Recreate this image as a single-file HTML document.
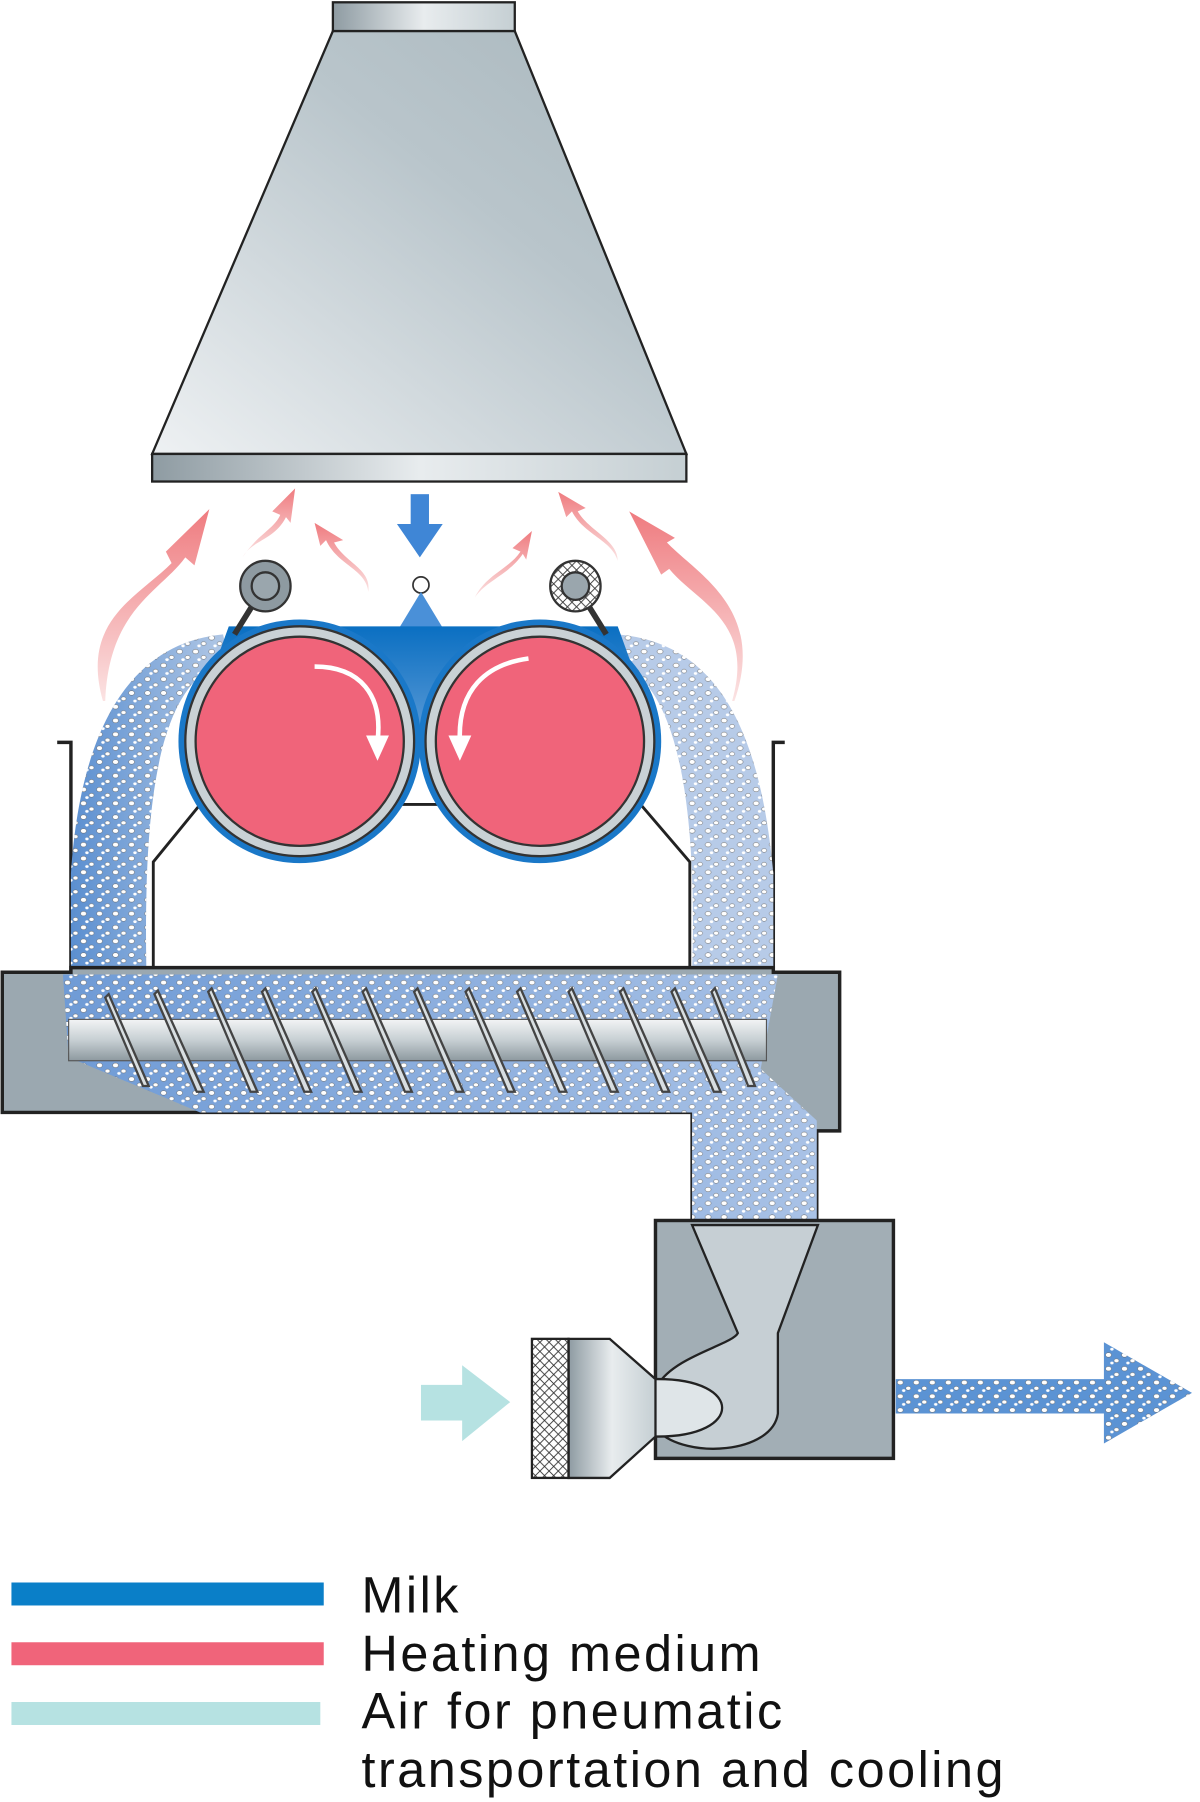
<!DOCTYPE html>
<html><head><meta charset="utf-8"><style>
html,body{margin:0;padding:0;background:#fff;width:1200px;height:1802px;overflow:hidden}
svg{display:block}
text{font-family:"Liberation Sans",sans-serif}
</style></head><body>
<svg width="1200" height="1802" viewBox="0 0 1049 1568" preserveAspectRatio="none" xmlns="http://www.w3.org/2000/svg">
<defs>
<linearGradient id="hood" x1="0" y1="1" x2="1" y2="0"><stop offset="0" stop-color="#eef1f3"/><stop offset="0.6" stop-color="#b9c5cb"/><stop offset="1" stop-color="#a9b7bd"/></linearGradient>
<linearGradient id="bar" x1="0" x2="1"><stop offset="0" stop-color="#8e9ba2"/><stop offset="0.5" stop-color="#e8ecee"/><stop offset="1" stop-color="#c5cfd3"/></linearGradient>
<linearGradient id="flowL" x1="0" x2="1"><stop offset="0" stop-color="#5b8fd0"/><stop offset="1" stop-color="#b3c9e6"/></linearGradient>
<linearGradient id="trough" x1="0" x2="1"><stop offset="0" stop-color="#6f9bd6"/><stop offset="1" stop-color="#a9c2e6"/></linearGradient>
<linearGradient id="shaft" x1="0" y1="0" x2="0" y2="1"><stop offset="0" stop-color="#f2f4f5"/><stop offset="0.5" stop-color="#c7cfd3"/><stop offset="1" stop-color="#8d999f"/></linearGradient>
<linearGradient id="heat" x1="0" y1="1" x2="0" y2="0"><stop offset="0" stop-color="#fbe3e3"/><stop offset="1" stop-color="#ef7b7f"/></linearGradient>
<linearGradient id="milk" x1="0" y1="0" x2="0" y2="1"><stop offset="0" stop-color="#0a6fc2"/><stop offset="1" stop-color="#5b9ad6"/></linearGradient>
<pattern id="dots" width="14" height="12" patternUnits="userSpaceOnUse">
<ellipse cx="3" cy="3" rx="2.6" ry="2" fill="#fff" stroke="#555" stroke-width="0.4"/>
<ellipse cx="10" cy="8" rx="2.2" ry="1.7" fill="#fff" stroke="#555" stroke-width="0.4"/>
<ellipse cx="6" cy="10" rx="1.5" ry="1.2" fill="#fff"/>
</pattern>
<pattern id="hatch" width="8" height="8" patternUnits="userSpaceOnUse"><path d="M0 0L8 8M8 0L0 8" stroke="#333" stroke-width="0.8"/></pattern>
</defs>

<polygon points="291,27 450,27 600,395 133,395" fill="url(#hood)" stroke="#222" stroke-width="2"/>
<rect x="291" y="2" width="159" height="25" fill="url(#bar)" stroke="#222" stroke-width="2"/>
<rect x="133" y="395" width="467" height="24" fill="url(#bar)" stroke="#222" stroke-width="2"/>

<g fill="url(#heat)">
<path d="M90,610 C70,540 120,520 150,490 L145,480 L183,443 L170,492 L162,485 C140,515 95,530 92,610Z"/>
<path d="M212,485 C225,465 240,460 245,448 L238,445 L258,425 L254,455 L250,450 C240,470 220,470 212,485Z"/>
<path d="M322,515 C320,495 295,492 285,470 L280,475 L275,455 L300,470 L292,472 C302,490 325,495 322,515Z"/>
<path d="M415,520 C425,500 445,495 455,480 L448,477 L465,462 L460,487 L457,482 C445,500 425,505 415,520Z"/>
<path d="M540,488 C535,470 510,465 500,445 L495,450 L488,428 L512,442 L505,445 C515,462 540,470 540,488Z"/>
<path d="M640,610 C660,540 610,525 585,495 L578,500 L550,445 L590,468 L583,472 C610,500 670,530 642,610Z"/>
</g>

<rect x="359" y="430" width="16" height="28" fill="#3f86d6"/>
<polygon points="347,456 387,456 367,485" fill="#3f86d6"/>
<circle cx="368" cy="509" r="7" fill="#fff" stroke="#333" stroke-width="1.5"/>
<polygon points="368,515 348,548 388,548" fill="#4a90d8"/>

<path d="M50,646 L62,646 L62,846" fill="none" stroke="#222" stroke-width="3"/>
<path d="M686,646 L676,646 L676,846" fill="none" stroke="#222" stroke-width="3"/>

<path d="M62,846 L62,760 C70,640 110,560 195,552 L200,575 C140,590 125,690 128,846Z" fill="url(#flowL)"/>
<path d="M62,846 L62,760 C70,640 110,560 195,552 L200,575 C140,590 125,690 128,846Z" fill="url(#dots)"/>
<path d="M676,846 L676,760 C665,640 630,560 540,552 L535,575 C590,590 610,690 605,846Z" fill="#b7cbe8"/>
<path d="M676,846 L676,760 C665,640 630,560 540,552 L535,575 C590,590 610,690 605,846Z" fill="url(#dots)"/>

<path d="M134,842 L134,750 L175,700 L560,700 L603,750 L603,842Z" fill="#fff" stroke="#222" stroke-width="2.5"/>

<path d="M200,545 L540,545 L560,600 L370,640 L180,600Z" fill="url(#milk)"/>
<circle cx="262" cy="645" r="106" fill="#1a78c8"/>
<circle cx="472" cy="645" r="106" fill="#1a78c8"/>
<circle cx="262" cy="645" r="100" fill="#c9d1d5" stroke="#333" stroke-width="2"/>
<circle cx="262" cy="645" r="91" fill="#f0647a" stroke="#333" stroke-width="2"/>
<circle cx="472" cy="645" r="100" fill="#c9d1d5" stroke="#333" stroke-width="2"/>
<circle cx="472" cy="645" r="91" fill="#f0647a" stroke="#333" stroke-width="2"/>
<path d="M275,580 C315,580 335,605 330,645" fill="none" stroke="#fff" stroke-width="4"/>
<polygon points="320,640 340,640 330,662" fill="#fff"/>
<path d="M462,573 C425,578 400,600 402,645" fill="none" stroke="#fff" stroke-width="4"/>
<polygon points="392,640 412,640 402,662" fill="#fff"/>

<path d="M205,552 L220,528" stroke="#333" stroke-width="5"/>
<circle cx="232" cy="510" r="22" fill="#8e9aa1" stroke="#333" stroke-width="2"/>
<circle cx="232" cy="510" r="12" fill="#9aa6ad" stroke="#333" stroke-width="2"/>
<path d="M530,552 L515,528" stroke="#333" stroke-width="5"/>
<circle cx="503" cy="510" r="22" fill="url(#hatch)" stroke="#333" stroke-width="2"/>
<circle cx="503" cy="510" r="12" fill="#9aa6ad" stroke="#333" stroke-width="2"/>

<path d="M2,846 L62,846 L62,842 L676,842 L676,846 L734,846 L734,984 L714,984 L714,1062 L605,1062 L605,968 L2,968Z" fill="#9ba8b0" stroke="#222" stroke-width="3"/>
<path d="M55,848 L680,848 L665,930 L714,975 L714,1062 L605,1062 L605,968 L175,968 L60,920Z" fill="url(#trough)"/>
<path d="M55,848 L680,848 L665,930 L714,975 L714,1062 L605,1062 L605,968 L175,968 L60,920Z" fill="url(#dots)"/>
<rect x="60" y="887" width="610" height="36" fill="url(#shaft)" stroke="#555" stroke-width="1"/>
<g stroke="#444" stroke-width="2" fill="#d8dee1">
<path d="M95,865 L130,945 L125,945 L92,868Z"/>
<path d="M138,862 L178,950 L172,950 L135,865Z"/>
<path d="M185,860 L225,950 L219,950 L182,863Z"/>
<path d="M232,860 L272,950 L266,950 L229,863Z"/>
<path d="M276,860 L316,950 L310,950 L273,863Z"/>
<path d="M320,860 L360,950 L354,950 L317,863Z"/>
<path d="M365,860 L405,950 L399,950 L362,863Z"/>
<path d="M410,860 L450,950 L444,950 L407,863Z"/>
<path d="M455,860 L495,950 L489,950 L452,863Z"/>
<path d="M500,860 L540,950 L534,950 L497,863Z"/>
<path d="M545,860 L585,950 L579,950 L542,863Z"/>
<path d="M590,860 L630,950 L624,950 L587,863Z"/>
<path d="M625,860 L660,945 L654,945 L622,863Z"/>
</g>

<rect x="573" y="1062" width="208" height="207" fill="#a2aeb5" stroke="#222" stroke-width="3"/>
<path d="M605,1066 L715,1066 L680,1160 L680,1230 C675,1265 600,1270 575,1245 L575,1205 C590,1180 640,1170 645,1160Z" fill="#c6cfd4" stroke="#222" stroke-width="2"/>
<path d="M535,1200 L575,1200 C650,1200 650,1250 575,1250 L535,1250Z" fill="#dfe5e8" stroke="#222" stroke-width="2"/>
<polygon points="497,1165 533,1165 573,1200 573,1250 533,1286 497,1286" fill="url(#bar)" stroke="#222" stroke-width="2"/>
<rect x="465" y="1165" width="32" height="121" fill="url(#hatch)" stroke="#222" stroke-width="2"/>
<polygon points="368,1205 404,1205 404,1188 446,1220 404,1254 404,1236 368,1236" fill="#b6e2e2"/>
<polygon points="783,1200 965,1200 965,1168 1042,1212 965,1256 965,1230 783,1230" fill="#5b93d4"/>
<polygon points="783,1200 965,1200 965,1168 1042,1212 965,1256 965,1230 783,1230" fill="url(#dots)"/>

<rect x="10" y="1377" width="273" height="20" fill="#0a7fc8"/>
<rect x="10" y="1429" width="273" height="20" fill="#f0647a"/>
<rect x="10" y="1481" width="270" height="20" fill="#b6e2e2"/>
<g font-size="44" fill="#111" letter-spacing="2.2">
<text x="316" y="1403">Milk</text>
<text x="316" y="1454">Heating medium</text>
<text x="316" y="1504">Air for pneumatic</text>
<text x="316" y="1555">transportation and cooling</text>
</g>
</svg>
</body></html>
